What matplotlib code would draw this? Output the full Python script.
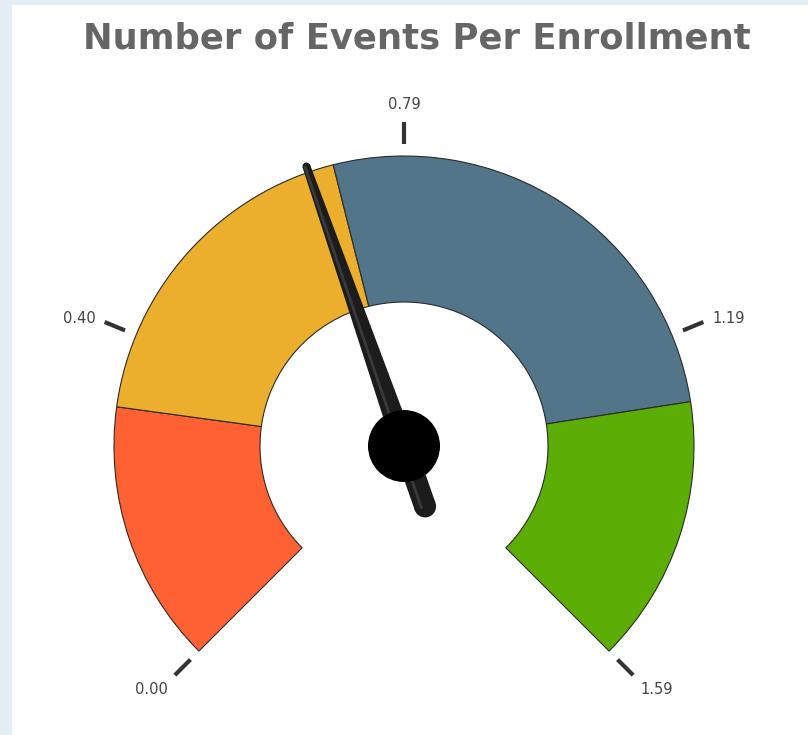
import numpy as np
import matplotlib.pyplot as plt
from matplotlib.patches import Wedge, Circle, Polygon, Rectangle

# valeurs de la jauge
titre = "Number of Events Per Enrollment"
bornes = [0.0, 0.31, 0.71, 1.27, 1.586]
couleurs = ["#ff6133", "#ebae2d", "#52758a", "#5cae07"]
ticks = [0.0, 0.3965, 0.793, 1.1895, 1.586]
tick_labels = ["0.00", "0.40", "0.79", "1.19", "1.59"]
valeur = 0.68

vmin, vmax = bornes[0], bornes[-1]
cx, cy = 404, 446
r_ext, r_int = 290, 144


def angle(v):
    # 225 deg (gauche en bas) -> -45 deg (droite en bas)
    return 225 - 270 * (v - vmin) / (vmax - vmin)


def point(a, r):
    t = np.radians(a)
    return cx + r * np.cos(t), cy - r * np.sin(t)


fig = plt.figure(figsize=(8.08, 7.35), dpi=100, facecolor="#e4eef5")
ax = fig.add_axes([0, 0, 1, 1])
ax.set_xlim(0, 808)
ax.set_ylim(735, 0)
ax.set_aspect("equal")
ax.axis("off")

ax.add_patch(Rectangle((12, 5), 800, 735, facecolor="white", edgecolor="none"))

# bandes colorées (y inversé -> angles négatifs)
for i, c in enumerate(couleurs):
    a1, a2 = angle(bornes[i]), angle(bornes[i + 1])
    ax.add_patch(Wedge((cx, cy), r_ext, -a1, -a2, width=r_ext - r_int,
                       facecolor=c, edgecolor="#2a2a2a", lw=0.8))

# graduations
for v, lab in zip(ticks, tick_labels):
    a = angle(v)
    x1, y1 = point(a, 302)
    x2, y2 = point(a, 324)
    ax.plot([x1, x2], [y1, y2], color="#333333", lw=3, solid_capstyle="butt")
    cs = np.cos(np.radians(a))
    sn = np.sin(np.radians(a))
    xt, yt = point(a, 334)
    ha = "right" if cs < -0.2 else ("left" if cs > 0.2 else "center")
    va = "bottom" if sn > 0.5 else ("top" if sn < -0.5 else "center")
    ax.text(xt, yt, lab, ha=ha, va=va, fontsize=10.5, color="#444444")

# aiguille
a = np.radians(angle(valeur))
d = np.array([np.cos(a), -np.sin(a)])
n = np.array([-d[1], d[0]])
c0 = np.array([cx, cy])
tip = c0 + d * 296
tail = c0 - d * 64
pts = [tip + n * 4, c0 + n * 11, tail + n * 11, tail - n * 11, c0 - n * 11, tip - n * 4]
ax.add_patch(Polygon(pts, closed=True, facecolor="#1c1c1c", edgecolor="none"))
ax.add_patch(Circle(tip, 4, facecolor="#1c1c1c", edgecolor="none"))
ax.add_patch(Circle(tail, 11, facecolor="#1c1c1c", edgecolor="none"))
ax.plot([tip[0] - n[0] * 1.5, tail[0] - n[0] * 4], [tip[1] - n[1] * 1.5, tail[1] - n[1] * 4],
        color="#3a3a3a", lw=2, solid_capstyle="round")
ax.add_patch(Circle((cx, cy), 36, facecolor="black", edgecolor="none", zorder=5))

ax.text(417, 38, titre, ha="center", va="center", fontsize=25.5,
        fontweight="bold", color="#666666")

fig.savefig("out.png", dpi=100, facecolor=fig.get_facecolor())
